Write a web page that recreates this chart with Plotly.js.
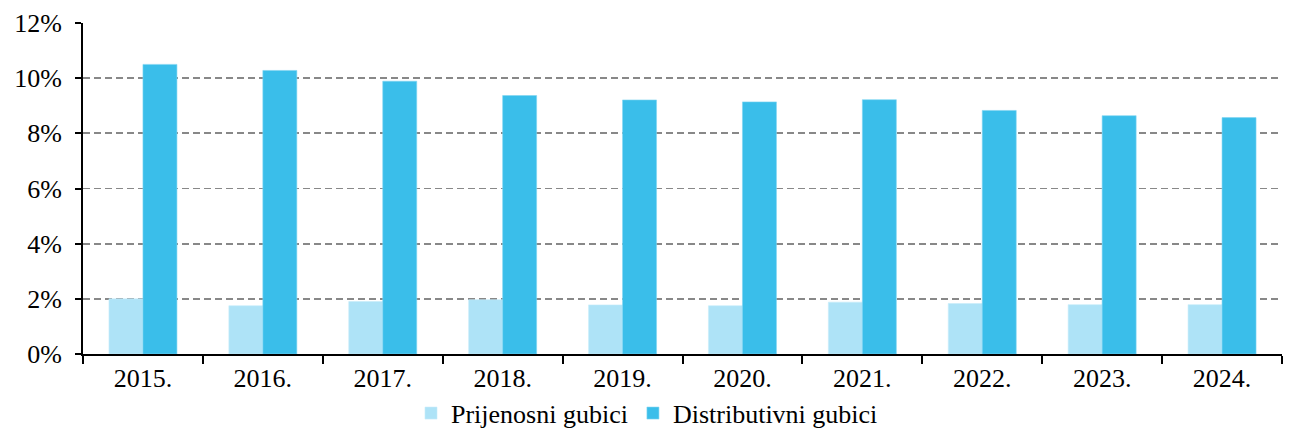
<!DOCTYPE html>
<html>
<head>
<meta charset="utf-8">
<script src="https://cdn.plot.ly/plotly-3.0.1.min.js"></script>
<style>html,body{margin:0;padding:0;background:#fff;}#chart{width:1294px;height:432px;}</style>
</head>
<body>
<div id="chart"></div>
<script>
const years = ['2015.', '2016.', '2017.', '2018.', '2019.', '2020.', '2021.', '2022.', '2023.', '2024.'];
const prijenosni = [2.00, 1.75, 1.90, 1.97, 1.78, 1.75, 1.88, 1.83, 1.79, 1.79];
const distributivni = [10.50, 10.28, 9.89, 9.37, 9.21, 9.14, 9.22, 8.83, 8.64, 8.57];
const yTicks = [0, 2, 4, 6, 8, 10, 12];

const font = {family: 'Liberation Serif, Times New Roman, serif', size: 26, color: '#000'};

const data = [
  {type: 'bar', name: 'Prijenosni gubici', x: years, y: prijenosni,
   marker: {color: '#AEE3F7', line: {color: '#c8edfa', width: 0.6}}},
  {type: 'bar', name: 'Distributivni gubici', x: years, y: distributivni,
   marker: {color: '#3ABEEA', line: {color: '#7fd5f2', width: 0.6}}}
];

const layout = {
  width: 1294, height: 432,
  margin: {l: 83, r: 12, t: 23, b: 78, autoexpand: false},
  paper_bgcolor: '#fff', plot_bgcolor: '#fff',
  font: font,
  barmode: 'group', bargap: 0.433, bargroupgap: 0,
  showlegend: true,
  legend: {orientation: 'h', x: 0.5, xanchor: 'center', xref: 'container',
           y: 0.098, yanchor: 'top', yref: 'container',
           font: font, traceorder: 'normal', itemwidth: 30},
  xaxis: {
    type: 'category', tickson: 'boundaries', ticks: 'outside', ticklen: 8,
    tickwidth: 2, tickcolor: '#000', showline: true, linecolor: '#000', linewidth: 2,
    showgrid: false, tickfont: font, fixedrange: true, automargin: false
  },
  yaxis: {
    range: [0, 12], tickvals: yTicks, ticktext: yTicks.map(v => v + '%'),
    ticks: 'outside', ticklen: 6, tickwidth: 2, tickcolor: '#000',
    ticklabelstandoff: 8,
    showline: true, linecolor: '#000', linewidth: 2,
    showgrid: true, gridcolor: '#888888', gridwidth: 1.8, griddash: '7px,4px',
    zeroline: false, tickfont: font, fixedrange: true, automargin: false
  }
};

Plotly.newPlot('chart', data, layout, {displayModeBar: false, staticPlot: true});
</script>
</body>
</html>
